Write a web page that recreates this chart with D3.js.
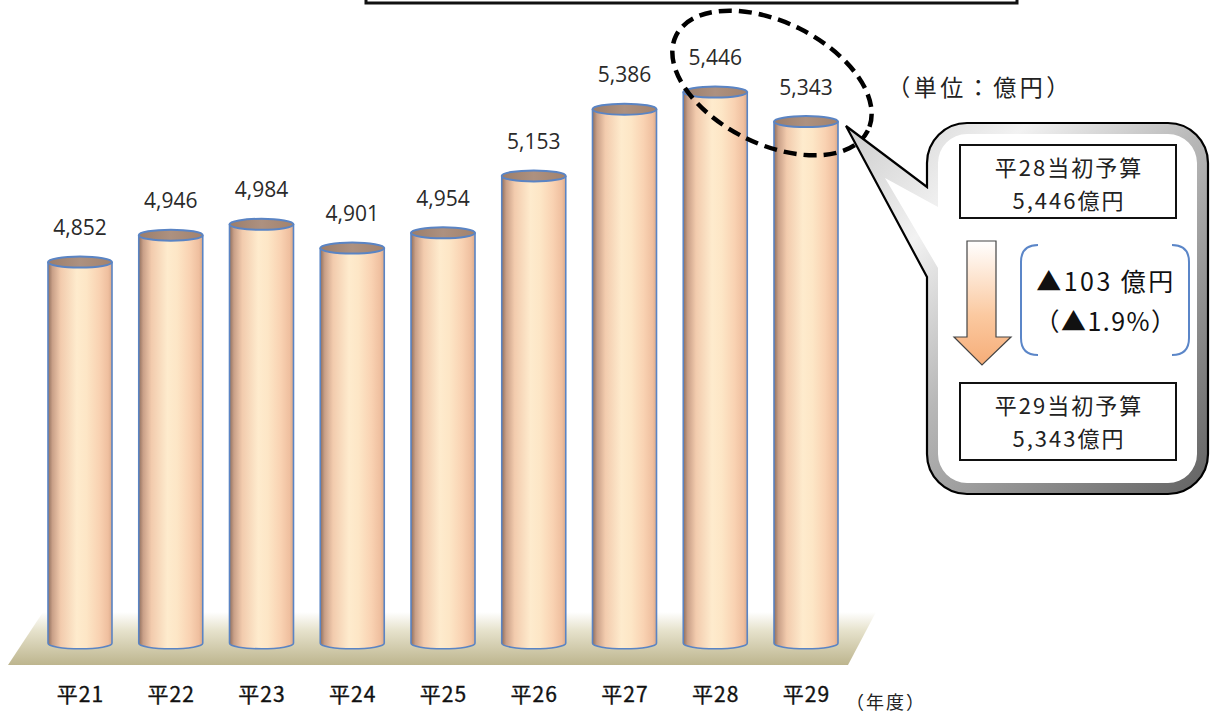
<!DOCTYPE html>
<html><head><meta charset="utf-8">
<script src="https://cdn.jsdelivr.net/npm/d3@7/dist/d3.min.js"></script>
<style>html,body{margin:0;padding:0;background:#fff;}svg{display:block;}</style>
</head><body>
<script>
// ---- data ----
const categories = ["平21","平22","平23","平24","平25","平26","平27","平28","平29"];
const values = [4852, 4946, 4984, 4901, 4954, 5153, 5386, 5446, 5343];
const valueLabels = ["4,852","4,946","4,984","4,901","4,954","5,153","5,386","5,446","5,343"];
const unitLabel = "（単位：億円）";
const yearLabel = "（年度）";
const prevBox = ["平28当初予算", "5,446億円"];
const currBox = ["平29当初予算", "5,343億円"];
const changeLines = ["▲103 億円", "（▲1.9%）"];

const W = 1216, H = 714;
const svg = d3.select("body").append("svg").attr("width", W).attr("height", H);
const defs = svg.append("defs");

const x = d3.scalePoint().domain(categories).range([80, 806]);
const y = d3.scaleLinear().domain([3520, 5500]).range([643.3, 76.6]);
const barW = 64, rx = barW / 2, ry = 5.5;
const base = y(3520);

// gradients
const gBar = defs.append("linearGradient").attr("id", "gBar").attr("x1", 0).attr("x2", 1).attr("y1", 0).attr("y2", 0);
[[0,"#8f6e5c"],[0.07,"#c9a088"],[0.2,"#f2cbad"],[0.45,"#feebcd"],[0.6,"#fde6c6"],[0.8,"#f9d2b2"],[0.94,"#efbf9f"],[1,"#d9a98b"]]
  .forEach(([o,c]) => gBar.append("stop").attr("offset", o).attr("stop-color", c));
const gTop = defs.append("linearGradient").attr("id", "gTop").attr("x1", 0).attr("x2", 1);
[[0,"#9b7d6a"],[0.5,"#ad9180"],[1,"#a2826d"]].forEach(([o,c]) => gTop.append("stop").attr("offset", o).attr("stop-color", c));
const gFloor = defs.append("linearGradient").attr("id", "gFloor").attr("x1", 0).attr("x2", 0).attr("y1", 0).attr("y2", 1);
[[0,"#ffffff"],[0.35,"#e6e2cc"],[1,"#bdb58e"]].forEach(([o,c]) => gFloor.append("stop").attr("offset", o).attr("stop-color", c));
const gBevel = defs.append("linearGradient").attr("id", "gBevel").attr("x1", 0).attr("x2", 1).attr("y1", 0).attr("y2", 1);
[[0,"#cccccc"],[0.25,"#f2f2f2"],[0.5,"#b8b8b8"],[1,"#626262"]].forEach(([o,c]) => gBevel.append("stop").attr("offset", o).attr("stop-color", c));
const gArrow = defs.append("linearGradient").attr("id", "gArrow").attr("x1", 0).attr("x2", 0).attr("y1", 0).attr("y2", 1);
[[0,"#ffffff"],[0.6,"#fbc9a0"],[1,"#f6ad78"]].forEach(([o,c]) => gArrow.append("stop").attr("offset", o).attr("stop-color", c));

// title box remnant
svg.append("rect").attr("x", 366).attr("y", -40).attr("width", 651).attr("height", 43)
  .attr("fill", "#fff").attr("stroke", "#111").attr("stroke-width", 3);

// floor
svg.append("path").attr("d", "M43,612 L876,612 L848,665 L8,665 Z").attr("fill", "url(#gFloor)");

// bars
const bars = svg.append("g").selectAll("g").data(values).join("g");
bars.each(function(v, i) {
  const g = d3.select(this);
  const cx = x(categories[i]), x0 = cx - rx, x1 = cx + rx, yt = y(v);
  g.append("path")
    .attr("d", `M${x0},${yt} L${x0},${base} A${rx},${ry} 0 0 0 ${x1},${base} L${x1},${yt} Z`)
    .attr("fill", "url(#gBar)");
  g.append("path")
    .attr("d", `M${x0},${yt} L${x0},${base} A${rx},${ry} 0 0 0 ${x1},${base} L${x1},${yt}`)
    .attr("fill", "none").attr("stroke", "#5a84c4").attr("stroke-width", 1.6);
  g.append("ellipse").attr("cx", cx).attr("cy", yt).attr("rx", rx).attr("ry", ry)
    .attr("fill", "url(#gTop)").attr("stroke", "#5a84c4").attr("stroke-width", 2);
  g.append("text").attr("x", cx).attr("y", yt - 27).attr("text-anchor", "middle")
    .attr("font-family", "'Open Sans', 'Noto Sans', sans-serif").attr("font-size", 21)
    .attr("fill", "#2a2a2a").text(valueLabels[i]);
});

// x labels
svg.append("g").selectAll("text").data(categories).join("text")
  .attr("x", d => x(d) + 0.5).attr("y", 702).attr("text-anchor", "middle")
  .attr("font-family", "'Noto Sans CJK JP', sans-serif").attr("font-size", 21).attr("font-weight", 400)
  .attr("letter-spacing", 1).attr("stroke", "#111").attr("stroke-width", 0.35)
  .attr("fill", "#111").text(d => d);
svg.append("text").attr("x", 886).attr("y", 709).attr("text-anchor", "middle")
  .attr("font-family", "'Noto Sans CJK JP', sans-serif").attr("font-size", 18).attr("letter-spacing", 2)
  .attr("fill", "#222").text(yearLabel);

// unit label
svg.append("text").attr("x", 980).attr("y", 96).attr("text-anchor", "middle")
  .attr("font-family", "'Noto Sans CJK JP', sans-serif").attr("font-size", 23).attr("letter-spacing", 3.5)
  .attr("fill", "#222").text(unitLabel);

// dashed ellipse
svg.append("ellipse").attr("cx", 772).attr("cy", 83).attr("rx", 107).attr("ry", 61)
  .attr("transform", "rotate(26.3 772 83)")
  .attr("fill", "none").attr("stroke", "#000").attr("stroke-width", 4.5).attr("stroke-dasharray", "13,7");

// callout
const L = 927, R = 1208, T = 123, B = 494, rr = 40;
const outer = `M${L},277 L846,126 L${L},187 L${L},${T+rr} A${rr},${rr} 0 0 1 ${L+rr},${T} L${R-rr},${T} A${rr},${rr} 0 0 1 ${R},${T+rr} L${R},${B-rr} A${rr},${rr} 0 0 1 ${R-rr},${B} L${L+rr},${B} A${rr},${rr} 0 0 1 ${L},${B-rr} Z`;
svg.append("path").attr("d", outer).attr("fill", "url(#gBevel)").attr("stroke", "#000").attr("stroke-width", 2.2).attr("stroke-linejoin", "miter");
const d = 11, L2 = L + d, R2 = R - d, T2 = T + d, B2 = B - d, r2 = rr - d;
const inner = `M${L2},268 L885,178 L${L2},207 L${L2},${T2+r2} A${r2},${r2} 0 0 1 ${L2+r2},${T2} L${R2-r2},${T2} A${r2},${r2} 0 0 1 ${R2},${T2+r2} L${R2},${B2-r2} A${r2},${r2} 0 0 1 ${R2-r2},${B2} L${L2+r2},${B2} A${r2},${r2} 0 0 1 ${L2},${B2-r2} Z`;
svg.append("path").attr("d", inner).attr("fill", "#fff");

function box(yTop, h, lines) {
  svg.append("rect").attr("x", 960).attr("y", yTop).attr("width", 216).attr("height", h)
    .attr("fill", "#fff").attr("stroke", "#111").attr("stroke-width", 2);
  lines.forEach((t, k) => svg.append("text").attr("x", 1069).attr("y", yTop + 31 + k * 33)
    .attr("text-anchor", "middle").attr("font-family", "'Noto Sans CJK JP', sans-serif")
    .attr("font-size", 22).attr("letter-spacing", 2).attr("fill", "#222").text(t));
}
box(145, 73, prevBox);
box(383, 77, currBox);

// arrow
svg.append("path").attr("d", "M967,241 L996,241 L996,337 L1011,337 L982,365 L954,337 L967,337 Z")
  .attr("fill", "url(#gArrow)").attr("stroke", "#444").attr("stroke-width", 1.2);

// brackets
const bc = "#5b86c8";
svg.append("path").attr("d", "M1038,245 Q1021,245 1021,262 L1021,338 Q1021,355 1038,355")
  .attr("fill", "none").attr("stroke", bc).attr("stroke-width", 2);
svg.append("path").attr("d", "M1172,245 Q1189,245 1189,262 L1189,338 Q1189,355 1172,355")
  .attr("fill", "none").attr("stroke", bc).attr("stroke-width", 2);

changeLines.forEach((t, k) => svg.append("text").attr("x", 1106).attr("y", 291 + k * 40)
  .attr("text-anchor", "middle").attr("font-family", "'Noto Sans CJK JP', sans-serif")
  .attr("font-size", 25).attr("letter-spacing", k === 0 ? 2.5 : 1.5).attr("fill", "#111").text(t));
</script>
</body></html>
